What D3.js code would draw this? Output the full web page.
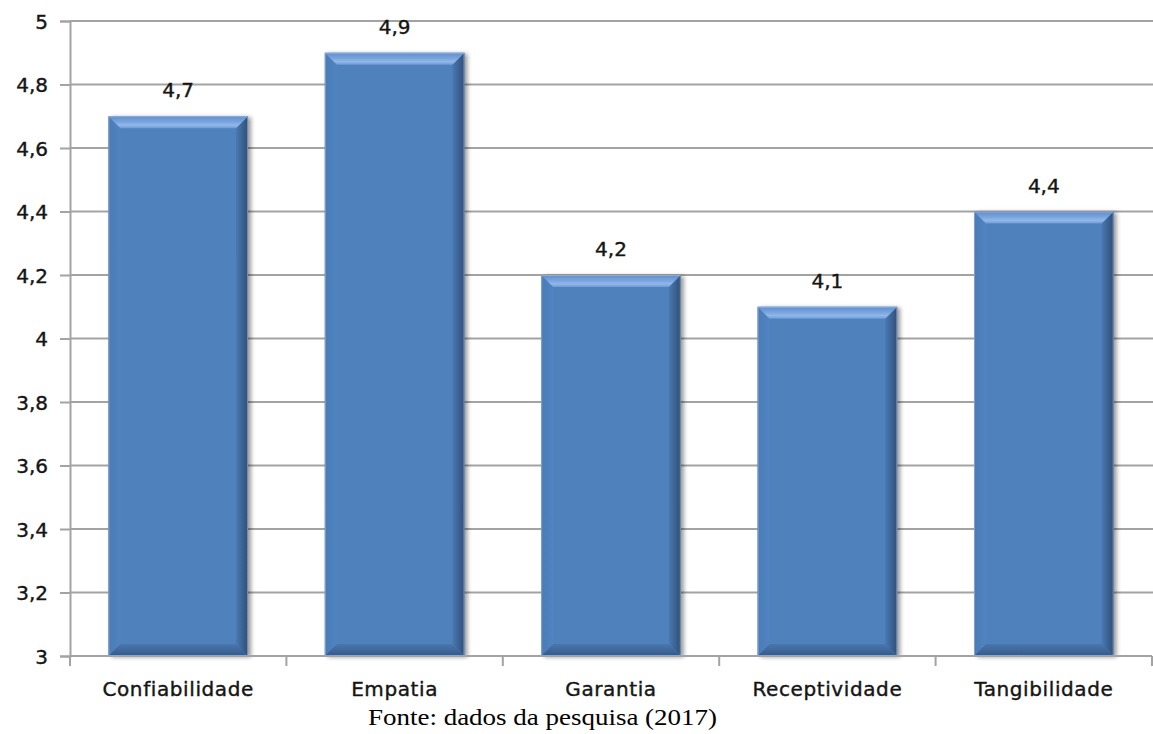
<!DOCTYPE html>
<html>
<head>
<meta charset="utf-8">
<script src="https://cdn.jsdelivr.net/npm/d3@7"></script>
<style>
  html, body { margin: 0; padding: 0; background: #ffffff; }
  svg { display: block; }
</style>
</head>
<body>
<svg id="chart" width="1153" height="734"></svg>
<script>
// Average score per quality dimension
const categories = ["Confiabilidade", "Empatia", "Garantia", "Receptividade", "Tangibilidade"];
const values = [4.7, 4.9, 4.2, 4.1, 4.4];
const yTicks = [3, 3.2, 3.4, 3.6, 3.8, 4, 4.2, 4.4, 4.6, 4.8, 5];
const sourceNote = "Fonte: dados da pesquisa (2017)";

const svg = d3.select("#chart");
const plotLeft = 70, plotRight = 1152, plotTop = 21, plotBottom = 656;

const x = d3.scaleBand()
  .domain(categories)
  .range([plotLeft, plotRight])
  .paddingInner(0.355)
  .paddingOuter(0.1775);

const y = d3.scaleLinear().domain([3, 5]).range([plotBottom, plotTop]);

const fmt = v => String(+v.toFixed(1)).replace(".", ",");
const labelFont = "'DejaVu Sans', Verdana, sans-serif";
const gridColor = "#a3a3a3";
const inkColor = "#151515";

// Bar shading definitions
const defs = svg.append("defs");
const shadow = defs.append("filter").attr("id", "barShadow")
  .attr("x", "-10%").attr("y", "-10%").attr("width", "130%").attr("height", "130%");
shadow.append("feDropShadow")
  .attr("dx", 3).attr("dy", 1).attr("stdDeviation", 2)
  .attr("flood-color", "#000").attr("flood-opacity", 0.4);

const topGrad = defs.append("linearGradient").attr("id", "topBevel")
  .attr("x1", 0).attr("y1", 0).attr("x2", 0).attr("y2", 1);
topGrad.append("stop").attr("offset", "0%").attr("stop-color", "#5f8ecd");
topGrad.append("stop").attr("offset", "45%").attr("stop-color", "#79a3dc");
topGrad.append("stop").attr("offset", "75%").attr("stop-color", "#92b8ea");
topGrad.append("stop").attr("offset", "100%").attr("stop-color", "#6d9ad6");

const rightGrad = defs.append("linearGradient").attr("id", "rightBevel")
  .attr("x1", 0).attr("y1", 0).attr("x2", 1).attr("y2", 0);
rightGrad.append("stop").attr("offset", "0%").attr("stop-color", "#4a79b2");
rightGrad.append("stop").attr("offset", "100%").attr("stop-color", "#2f4f78");

const bottomGrad = defs.append("linearGradient").attr("id", "bottomBevel")
  .attr("x1", 0).attr("y1", 0).attr("x2", 0).attr("y2", 1);
bottomGrad.append("stop").attr("offset", "0%").attr("stop-color", "#4a77ae");
bottomGrad.append("stop").attr("offset", "100%").attr("stop-color", "#35598a");

const leftGrad = defs.append("linearGradient").attr("id", "leftBevel")
  .attr("x1", 0).attr("y1", 0).attr("x2", 1).attr("y2", 0);
leftGrad.append("stop").attr("offset", "0%").attr("stop-color", "#4a7bb6");
leftGrad.append("stop").attr("offset", "100%").attr("stop-color", "#5084c0");

// Horizontal gridlines
svg.append("g")
  .selectAll("line")
  .data(yTicks.filter(t => t !== 3))
  .join("line")
  .attr("x1", plotLeft).attr("x2", 1153)
  .attr("y1", d => y(d)).attr("y2", d => y(d))
  .attr("stroke", gridColor).attr("stroke-width", 2);

// Y axis
const yAxis = svg.append("g")
  .attr("transform", `translate(${plotLeft},0)`)
  .call(d3.axisLeft(y).tickValues(yTicks).tickSize(10).tickPadding(12).tickFormat(fmt));
yAxis.select(".domain").attr("stroke", gridColor).attr("stroke-width", 2);
yAxis.selectAll(".tick line").attr("stroke", gridColor).attr("stroke-width", 2);
yAxis.selectAll(".tick text")
  .attr("font-family", labelFont).attr("font-size", 20)
  .attr("fill", inkColor).attr("stroke", inkColor).attr("stroke-width", 0.4)
  .attr("dy", "0.36em");

// Bars with bevelled edges
const b = 12;
const bars = svg.append("g").selectAll("g.bar")
  .data(categories.map((c, i) => ({ c, v: values[i] })))
  .join("g").attr("class", "bar");

bars.each(function(d) {
  const g = d3.select(this);
  const x0 = x(d.c), x1 = x(d.c) + x.bandwidth();
  const y0 = y(d.v), y1 = y(3);
  const pts = p => p.map(q => q.join(",")).join(" ");
  g.append("rect")
    .attr("x", x0).attr("y", y0).attr("width", x1 - x0).attr("height", y1 - y0)
    .attr("fill", "#4f81bd").attr("filter", "url(#barShadow)");
  g.append("polygon").attr("fill", "url(#leftBevel)")
    .attr("points", pts([[x0, y0], [x0 + b, y0 + b], [x0 + b, y1 - b], [x0, y1]]));
  g.append("polygon").attr("fill", "url(#bottomBevel)")
    .attr("points", pts([[x0, y1], [x0 + b, y1 - b], [x1 - b, y1 - b], [x1, y1]]));
  g.append("polygon").attr("fill", "url(#rightBevel)")
    .attr("points", pts([[x1, y0], [x1, y1], [x1 - b, y1 - b], [x1 - b, y0 + b]]));
  g.append("polygon").attr("fill", "url(#topBevel)")
    .attr("points", pts([[x0, y0], [x1, y0], [x1 - b, y0 + b], [x0 + b, y0 + b]]));
  g.append("rect")
    .attr("x", x0 + 0.5).attr("y", y0 + 0.5).attr("width", x1 - x0 - 1).attr("height", y1 - y0 - 1)
    .attr("fill", "none").attr("stroke", "#b9c9dc").attr("stroke-opacity", 0.5).attr("stroke-width", 1);
});

// Value labels
bars.append("text")
  .attr("x", d => x(d.c) + x.bandwidth() / 2)
  .attr("y", d => y(d.v) - 19)
  .attr("text-anchor", "middle")
  .attr("font-family", labelFont).attr("font-size", 20)
  .attr("fill", inkColor).attr("stroke", inkColor).attr("stroke-width", 0.4)
  .text(d => fmt(d.v));

// X axis with category boundary ticks
svg.append("line")
  .attr("x1", plotLeft).attr("x2", plotRight).attr("y1", plotBottom).attr("y2", plotBottom)
  .attr("stroke", gridColor).attr("stroke-width", 2);
const bounds = [plotLeft].concat(categories.map(c => x(c) + x.bandwidth() + x.step() * x.paddingInner() / 2));
bounds[bounds.length - 1] = plotRight;
svg.append("g").selectAll("line")
  .data(bounds)
  .join("line")
  .attr("x1", d => d).attr("x2", d => d)
  .attr("y1", plotBottom).attr("y2", plotBottom + 10)
  .attr("stroke", gridColor).attr("stroke-width", 2);

svg.append("g").selectAll("text")
  .data(categories)
  .join("text")
  .attr("x", d => x(d) + x.bandwidth() / 2)
  .attr("y", 696)
  .attr("text-anchor", "middle")
  .attr("font-family", labelFont).attr("font-size", 20)
  .attr("letter-spacing", "0.6px")
  .attr("fill", inkColor).attr("stroke", inkColor).attr("stroke-width", 0.4)
  .text(d => d);

// Source note
svg.append("text")
  .attr("x", 368).attr("y", 725)
  .attr("font-family", "'Liberation Serif', 'Times New Roman', serif")
  .attr("font-size", 24)
  .attr("textLength", 349)
  .attr("lengthAdjust", "spacingAndGlyphs")
  .attr("fill", "#000")
  .text(sourceNote);
</script>
</body>
</html>
